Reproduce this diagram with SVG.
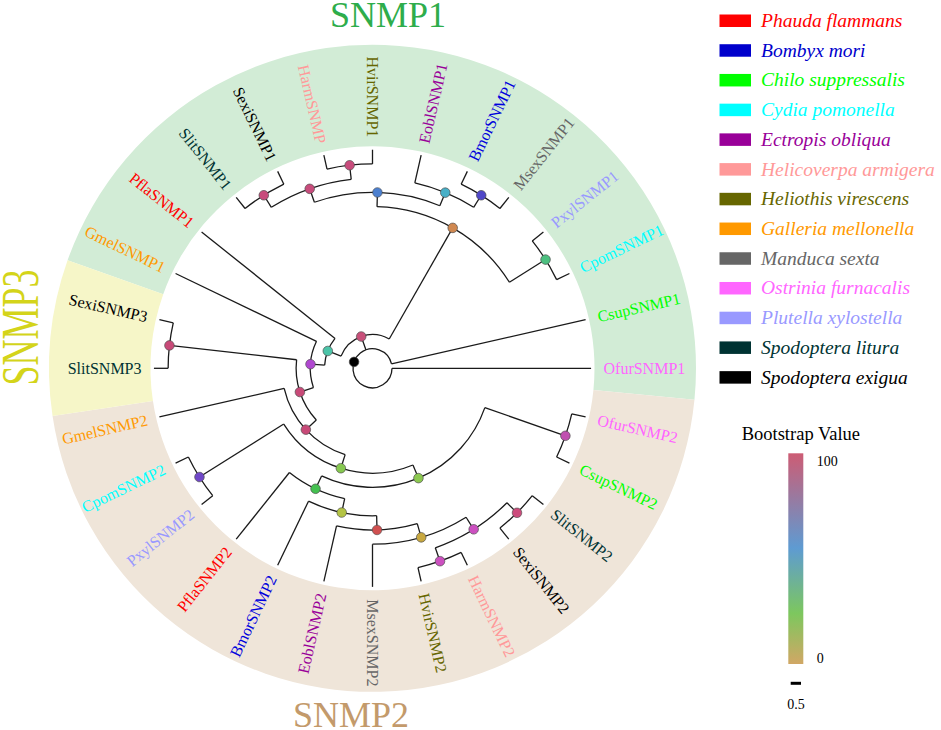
<svg xmlns="http://www.w3.org/2000/svg" width="941" height="730" viewBox="0 0 941 730">
<style>
.e{fill:none;stroke:#1a1a1a;stroke-width:1.3}
.n{stroke:#4a4a4a;stroke-width:0.6}
.t{font-family:"Liberation Serif","Times New Roman",serif;font-size:16px}
.l{font-family:"Liberation Serif","Times New Roman",serif;font-size:19.5px;font-style:italic}
.s{font-family:"Liberation Serif","Times New Roman",serif;font-size:14px;fill:#000}
.h{font-family:"Liberation Serif","Times New Roman",serif;font-size:36px;text-anchor:middle}
</style>
<defs>
<linearGradient id="bs" x1="0" y1="0" x2="0" y2="1">
<stop offset="0" stop-color="#CD5C74"/>
<stop offset="0.45" stop-color="#5E9BD2"/>
<stop offset="0.76" stop-color="#7DC75E"/>
<stop offset="1" stop-color="#D1A765"/>
</linearGradient>
</defs>
<rect width="941" height="730" fill="#fff"/>
<g transform="translate(372.5,368.3)">
<g id="clades">
<path id="clade-SNMP1" fill="#D2ECD6" d="M-304.94,-107.99A323.5,323.5 0 0 1 321.96,31.57L220.94,21.66A222,222 0 0 0 -209.27,-74.11Z"/>
<path id="clade-SNMP2" fill="#EFE5D9" d="M321.96,31.57A323.5,323.5 0 0 1 -319.95,47.82L-219.56,32.81A222,222 0 0 0 220.94,21.66Z"/>
<path id="clade-SNMP3" fill="#F6F6C8" d="M-319.95,47.82A323.5,323.5 0 0 1 -304.94,-107.99L-209.27,-74.11A222,222 0 0 0 -219.56,32.81Z"/>
</g>
<g id="edges" class="e">
<path d="M19.5,0A19.5,19.5 0 1 1 19.011,-4.339"/>
<path transform="rotate(201.188)" d="M33.72,0A33.72,33.72 0 0 1 -5.010,33.346"/>
<path transform="rotate(183.804)" d="M47.94,0A47.94,47.94 0 0 1 39.381,27.338"/>
<path transform="rotate(161.895)" d="M62.16,0A62.16,62.16 0 0 1 44.850,43.039"/>
<path transform="rotate(137.36)" d="M76.38,0A76.38,76.38 0 0 1 50.040,57.705"/>
<path transform="rotate(107.578)" d="M90.6,0A90.6,90.6 0 0 1 45.894,78.115"/>
<path transform="rotate(67.299)" d="M104.82,0A104.82,104.82 0 0 1 17.196,103.400"/>
<path transform="rotate(19.286)" d="M119.04,0A119.04,119.04 0 0 1 -12.499,118.382"/>
<path transform="rotate(102.054)" d="M133.26,0A133.26,133.26 0 0 1 119.242,59.495"/>
<path transform="rotate(88.393)" d="M147.48,0A147.48,147.48 0 0 1 131.029,67.690"/>
<path transform="rotate(73.929)" d="M161.7,0A161.7,161.7 0 0 1 141.525,78.216"/>
<path transform="rotate(57.857)" d="M175.92,0A175.92,175.92 0 0 1 148.957,93.595"/>
<path transform="rotate(45)" d="M190.14,0A190.14,190.14 0 0 1 171.31,82.498"/>
<path transform="rotate(38.571)" d="M204.36,0A204.36,204.36 0 0 1 199.237,45.474"/>
<path transform="rotate(64.286)" d="M204.36,0A204.36,204.36 0 0 1 199.237,45.474"/>
<path transform="rotate(12.857)" d="M204.36,0A204.36,204.36 0 0 1 199.237,45.474"/>
<path transform="rotate(141.429)" d="M204.36,0A204.36,204.36 0 0 1 199.237,45.474"/>
<path transform="rotate(180)" d="M204.36,0A204.36,204.36 0 0 1 199.237,45.474"/>
<path transform="rotate(271.607)" d="M161.7,0A161.7,161.7 0 0 1 89.836,134.449"/>
<path transform="rotate(250.714)" d="M175.92,0A175.92,175.92 0 0 1 131.173,117.226"/>
<path transform="rotate(237.857)" d="M190.14,0A190.14,190.14 0 0 1 171.31,82.498"/>
<path transform="rotate(231.429)" d="M204.36,0A204.36,204.36 0 0 1 199.237,45.474"/>
<path transform="rotate(257.143)" d="M204.36,0A204.36,204.36 0 0 1 199.237,45.474"/>
<path transform="rotate(282.857)" d="M190.14,0A190.14,190.14 0 0 1 179.469,62.799"/>
<path transform="rotate(295.714)" d="M204.36,0A204.36,204.36 0 0 1 199.237,45.474"/>
<path transform="rotate(321.429)" d="M204.36,0A204.36,204.36 0 0 1 199.237,45.474"/>
<line x1="19.5" x2="218.58"/>
<line transform="rotate(12.857)" x1="204.36" x2="218.58"/>
<line transform="rotate(25.714)" x1="204.36" x2="218.58"/>
<line transform="rotate(38.571)" x1="204.36" x2="218.58"/>
<line transform="rotate(51.429)" x1="204.36" x2="218.58"/>
<line transform="rotate(64.286)" x1="204.36" x2="218.58"/>
<line transform="rotate(77.143)" x1="204.36" x2="218.58"/>
<line transform="rotate(90)" x1="175.92" x2="218.58"/>
<line transform="rotate(102.857)" x1="161.7" x2="218.58"/>
<line transform="rotate(115.714)" x1="147.48" x2="218.58"/>
<line transform="rotate(128.571)" x1="133.26" x2="218.58"/>
<line transform="rotate(141.429)" x1="204.36" x2="218.58"/>
<line transform="rotate(154.286)" x1="204.36" x2="218.58"/>
<line transform="rotate(167.143)" x1="90.6" x2="218.58"/>
<line transform="rotate(180)" x1="204.36" x2="218.58"/>
<line transform="rotate(192.857)" x1="204.36" x2="218.58"/>
<line transform="rotate(205.714)" x1="62.16" x2="218.58"/>
<line transform="rotate(218.571)" x1="47.94" x2="218.58"/>
<line transform="rotate(231.429)" x1="204.36" x2="218.58"/>
<line transform="rotate(244.286)" x1="204.36" x2="218.58"/>
<line transform="rotate(257.143)" x1="204.36" x2="218.58"/>
<line transform="rotate(270)" x1="204.36" x2="218.58"/>
<line transform="rotate(282.857)" x1="190.14" x2="218.58"/>
<line transform="rotate(295.714)" x1="204.36" x2="218.58"/>
<line transform="rotate(308.571)" x1="204.36" x2="218.58"/>
<line transform="rotate(321.429)" x1="204.36" x2="218.58"/>
<line transform="rotate(334.286)" x1="204.36" x2="218.58"/>
<line transform="rotate(347.143)" x1="19.5" x2="218.58"/>
<line transform="rotate(250.466)" x1="19.5" x2="33.72"/>
<line transform="rotate(201.188)" x1="33.72" x2="47.94"/>
<line transform="rotate(299.732)" x1="33.72" x2="161.7"/>
<line transform="rotate(183.804)" x1="47.94" x2="62.16"/>
<line transform="rotate(161.895)" x1="62.16" x2="76.38"/>
<line transform="rotate(137.36)" x1="76.38" x2="90.6"/>
<line transform="rotate(186.429)" x1="76.38" x2="204.36"/>
<line transform="rotate(107.578)" x1="90.6" x2="104.82"/>
<line transform="rotate(67.299)" x1="104.82" x2="119.04"/>
<line transform="rotate(147.857)" x1="104.82" x2="204.36"/>
<line transform="rotate(19.286)" x1="119.04" x2="204.36"/>
<line transform="rotate(115.313)" x1="119.04" x2="133.26"/>
<line transform="rotate(102.054)" x1="133.26" x2="147.48"/>
<line transform="rotate(88.393)" x1="147.48" x2="161.7"/>
<line transform="rotate(73.929)" x1="161.7" x2="175.92"/>
<line transform="rotate(57.857)" x1="175.92" x2="190.14"/>
<line transform="rotate(45)" x1="190.14" x2="204.36"/>
<line transform="rotate(70.714)" x1="190.14" x2="204.36"/>
<line transform="rotate(271.607)" x1="161.7" x2="175.92"/>
<line transform="rotate(327.857)" x1="161.7" x2="204.36"/>
<line transform="rotate(250.714)" x1="175.92" x2="190.14"/>
<line transform="rotate(292.5)" x1="175.92" x2="190.14"/>
<line transform="rotate(237.857)" x1="190.14" x2="204.36"/>
<line transform="rotate(263.571)" x1="190.14" x2="204.36"/>
<line transform="rotate(302.143)" x1="190.14" x2="204.36"/>
</g>
<g id="nodes" class="n">
<g id="node-root"><circle transform="rotate(199.2)" cx="19.5" r="4.8" fill="#000"/></g>
<g id="node-1"><circle transform="rotate(250.466)" cx="33.72" r="4.8" fill="#C8507A"/></g>
<g id="node-2"><circle transform="rotate(201.188)" cx="47.94" r="4.8" fill="#4CC4A8"/></g>
<g id="node-3"><circle transform="rotate(183.804)" cx="62.16" r="4.8" fill="#B048D0"/></g>
<g id="node-4"><circle transform="rotate(161.895)" cx="76.38" r="4.8" fill="#C84A78"/></g>
<g id="node-5"><circle transform="rotate(137.36)" cx="90.6" r="4.8" fill="#C84A78"/></g>
<g id="node-6"><circle transform="rotate(107.578)" cx="104.82" r="4.8" fill="#86C850"/></g>
<g id="node-7"><circle transform="rotate(67.299)" cx="119.04" r="4.8" fill="#8CC850"/></g>
<g id="node-8"><circle transform="rotate(115.313)" cx="133.26" r="4.8" fill="#44C050"/></g>
<g id="node-9"><circle transform="rotate(102.054)" cx="147.48" r="4.8" fill="#B4C444"/></g>
<g id="node-10"><circle transform="rotate(88.393)" cx="161.7" r="4.8" fill="#D05050"/></g>
<g id="node-11"><circle transform="rotate(73.929)" cx="175.92" r="4.8" fill="#C8A840"/></g>
<g id="node-12"><circle transform="rotate(57.857)" cx="190.14" r="4.8" fill="#CC50C0"/></g>
<g id="node-13"><circle transform="rotate(45)" cx="204.36" r="4.8" fill="#CC4C7C"/></g>
<g id="node-14"><circle transform="rotate(70.714)" cx="204.36" r="4.8" fill="#CC50C0"/></g>
<g id="node-15"><circle transform="rotate(19.286)" cx="204.36" r="4.8" fill="#C050B0"/></g>
<g id="node-16"><circle transform="rotate(147.857)" cx="204.36" r="4.8" fill="#7048C8"/></g>
<g id="node-17"><circle transform="rotate(186.429)" cx="204.36" r="4.8" fill="#C84A78"/></g>
<g id="node-18"><circle transform="rotate(299.732)" cx="161.7" r="4.8" fill="#D08850"/></g>
<g id="node-19"><circle transform="rotate(271.607)" cx="175.92" r="4.8" fill="#4C80D0"/></g>
<g id="node-20"><circle transform="rotate(327.857)" cx="204.36" r="4.8" fill="#4CC080"/></g>
<g id="node-21"><circle transform="rotate(250.714)" cx="190.14" r="4.8" fill="#C84C7C"/></g>
<g id="node-22"><circle transform="rotate(292.5)" cx="190.14" r="4.8" fill="#48B0C8"/></g>
<g id="node-23"><circle transform="rotate(237.857)" cx="204.36" r="4.8" fill="#C84C7C"/></g>
<g id="node-24"><circle transform="rotate(263.571)" cx="204.36" r="4.8" fill="#C84C7C"/></g>
<g id="node-25"><circle transform="rotate(302.143)" cx="204.36" r="4.8" fill="#5048C8"/></g>
</g>
<g id="tips" class="t">
<g id="tip-OfurSNMP1"><text transform="rotate(0)" x="231" dy=".35em" fill="#FF66FF">OfurSNMP1</text></g>
<g id="tip-OfurSNMP2"><text transform="rotate(12.857)" x="231" dy=".35em" fill="#FF66FF">OfurSNMP2</text></g>
<g id="tip-CsupSNMP2"><text transform="rotate(25.714)" x="231" dy=".35em" fill="#00FF00">CsupSNMP2</text></g>
<g id="tip-SlitSNMP2"><text transform="rotate(38.571)" x="231" dy=".35em" fill="#003333">SlitSNMP2</text></g>
<g id="tip-SexiSNMP2"><text transform="rotate(51.429)" x="231" dy=".35em" fill="#000000">SexiSNMP2</text></g>
<g id="tip-HarmSNMP2"><text transform="rotate(64.286)" x="231" dy=".35em" fill="#FF9999">HarmSNMP2</text></g>
<g id="tip-HvirSNMP2"><text transform="rotate(77.143)" x="231" dy=".35em" fill="#666600">HvirSNMP2</text></g>
<g id="tip-MsexSNMP2"><text transform="rotate(90)" x="231" dy=".35em" fill="#666666">MsexSNMP2</text></g>
<g id="tip-EoblSNMP2"><text transform="rotate(-77.143)" x="-231" dy=".35em" text-anchor="end" fill="#990099">EoblSNMP2</text></g>
<g id="tip-BmorSNMP2"><text transform="rotate(-64.286)" x="-231" dy=".35em" text-anchor="end" fill="#0000DD">BmorSNMP2</text></g>
<g id="tip-PflaSNMP2"><text transform="rotate(-51.429)" x="-231" dy=".35em" text-anchor="end" fill="#FF0000">PflaSNMP2</text></g>
<g id="tip-PxylSNMP2"><text transform="rotate(-38.571)" x="-231" dy=".35em" text-anchor="end" fill="#9999FF">PxylSNMP2</text></g>
<g id="tip-CpomSNMP2"><text transform="rotate(-25.714)" x="-231" dy=".35em" text-anchor="end" fill="#00FFFF">CpomSNMP2</text></g>
<g id="tip-GmelSNMP2"><text transform="rotate(-12.857)" x="-231" dy=".35em" text-anchor="end" fill="#FF9900">GmelSNMP2</text></g>
<g id="tip-SlitSNMP3"><text transform="rotate(0)" x="-231" dy=".35em" text-anchor="end" fill="#003333">SlitSNMP3</text></g>
<g id="tip-SexiSNMP3"><text transform="rotate(12.857)" x="-231" dy=".35em" text-anchor="end" fill="#000000">SexiSNMP3</text></g>
<g id="tip-GmelSNMP1"><text transform="rotate(25.714)" x="-231" dy=".35em" text-anchor="end" fill="#FF9900">GmelSNMP1</text></g>
<g id="tip-PflaSNMP1"><text transform="rotate(38.571)" x="-231" dy=".35em" text-anchor="end" fill="#FF0000">PflaSNMP1</text></g>
<g id="tip-SlitSNMP1"><text transform="rotate(51.429)" x="-231" dy=".35em" text-anchor="end" fill="#003333">SlitSNMP1</text></g>
<g id="tip-SexiSNMP1"><text transform="rotate(64.286)" x="-231" dy=".35em" text-anchor="end" fill="#000000">SexiSNMP1</text></g>
<g id="tip-HarmSNMP"><text transform="rotate(77.143)" x="-231" dy=".35em" text-anchor="end" fill="#FF9999">HarmSNMP</text></g>
<g id="tip-HvirSNMP1"><text transform="rotate(90)" x="-231" dy=".35em" text-anchor="end" fill="#666600">HvirSNMP1</text></g>
<g id="tip-EoblSNMP1"><text transform="rotate(-77.143)" x="231" dy=".35em" fill="#990099">EoblSNMP1</text></g>
<g id="tip-BmorSNMP1"><text transform="rotate(-64.286)" x="231" dy=".35em" fill="#0000DD">BmorSNMP1</text></g>
<g id="tip-MsexSNMP1"><text transform="rotate(-51.429)" x="231" dy=".35em" fill="#666666">MsexSNMP1</text></g>
<g id="tip-PxylSNMP1"><text transform="rotate(-38.571)" x="231" dy=".35em" fill="#9999FF">PxylSNMP1</text></g>
<g id="tip-CpomSNMP1"><text transform="rotate(-25.714)" x="231" dy=".35em" fill="#00FFFF">CpomSNMP1</text></g>
<g id="tip-CsupSNMP1"><text transform="rotate(-12.857)" x="231" dy=".35em" fill="#00FF00">CsupSNMP1</text></g>
</g>
</g>
<g id="titles" class="h">
<text id="title-SNMP1" x="388" y="27.3" fill="#2EAD4B">SNMP1</text>
<text id="title-SNMP2" x="351" y="726.5" fill="#C39A6B">SNMP2</text>
<text id="title-SNMP3" transform="translate(38.3,327.5) rotate(-90) scale(1,1.45)" fill="#D4D41A">SNMP3</text>
</g>
<g id="legend-species" class="l">
<g id="leg-0"><rect x="719.5" y="14.5" width="31.5" height="12.5" fill="#FF0000"/><text x="761" y="27" fill="#FF0000">Phauda flammans</text></g>
<g id="leg-1"><rect x="719.5" y="44.22" width="31.5" height="12.5" fill="#0000CC"/><text x="761" y="56.72" fill="#0000CC">Bombyx mori</text></g>
<g id="leg-2"><rect x="719.5" y="73.94" width="31.5" height="12.5" fill="#00FF00"/><text x="761" y="86.44" fill="#00FF00">Chilo suppressalis</text></g>
<g id="leg-3"><rect x="719.5" y="103.66" width="31.5" height="12.5" fill="#00FFFF"/><text x="761" y="116.16" fill="#00FFFF">Cydia pomonella</text></g>
<g id="leg-4"><rect x="719.5" y="133.38" width="31.5" height="12.5" fill="#990099"/><text x="761" y="145.88" fill="#990099">Ectropis obliqua</text></g>
<g id="leg-5"><rect x="719.5" y="163.1" width="31.5" height="12.5" fill="#FF9999"/><text x="761" y="175.6" fill="#FF9999">Helicoverpa armigera</text></g>
<g id="leg-6"><rect x="719.5" y="192.82" width="31.5" height="12.5" fill="#666600"/><text x="761" y="205.32" fill="#666600">Heliothis virescens</text></g>
<g id="leg-7"><rect x="719.5" y="222.54" width="31.5" height="12.5" fill="#FF9900"/><text x="761" y="235.04" fill="#FF9900">Galleria mellonella</text></g>
<g id="leg-8"><rect x="719.5" y="252.26" width="31.5" height="12.5" fill="#666666"/><text x="761" y="264.76" fill="#666666">Manduca sexta</text></g>
<g id="leg-9"><rect x="719.5" y="281.98" width="31.5" height="12.5" fill="#FF66FF"/><text x="761" y="294.48" fill="#FF66FF">Ostrinia furnacalis</text></g>
<g id="leg-10"><rect x="719.5" y="311.7" width="31.5" height="12.5" fill="#9999FF"/><text x="761" y="324.2" fill="#9999FF">Plutella xylostella</text></g>
<g id="leg-11"><rect x="719.5" y="341.42" width="31.5" height="12.5" fill="#003333"/><text x="761" y="353.92" fill="#003333">Spodoptera litura</text></g>
<g id="leg-12"><rect x="719.5" y="371.14" width="31.5" height="12.5" fill="#000000"/><text x="761" y="383.64" fill="#000000">Spodoptera exigua</text></g>
</g>
<g id="legend-bootstrap">
<text x="741.7" y="439.5" font-family="Liberation Serif, Times New Roman, serif" font-size="18.5" fill="#000">Bootstrap Value</text>
<rect x="788.3" y="453.3" width="15" height="210.7" fill="url(#bs)"/>
<text class="s" x="816.7" y="466">100</text>
<text class="s" x="816.7" y="662.7">0</text>
<line x1="790.7" y1="683.3" x2="801" y2="683.3" stroke="#000" stroke-width="3"/>
<text class="s" x="796" y="709.3" text-anchor="middle">0.5</text>
</g>
</svg>
